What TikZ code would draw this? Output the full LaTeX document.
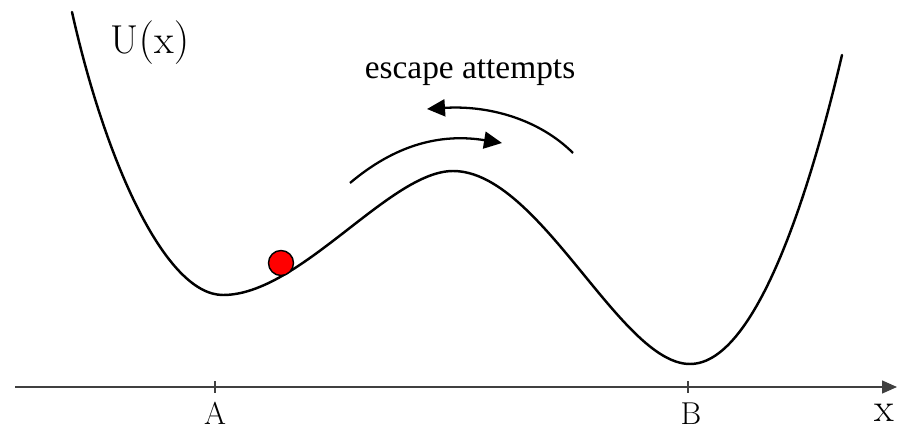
\documentclass[tikz,border=0pt]{standalone}
\usepackage{fontspec}
\newfontfamily\timesfont{Liberation Serif}
\usetikzlibrary{arrows.meta}
\tikzset{
	potential/.style={line width=1.4pt,line cap=round},
	attempt/.style={line width=1.3pt,-{Triangle[length=3.6mm,width=3.4mm]}},
	axisline/.style={line width=0.8pt,black!75,-{Triangle[length=3mm,width=2.6mm]}},
	tickmark/.style={line width=0.8pt,black!75},
}
\begin{document}
\begin{tikzpicture}[x=0.02cm,y=-0.02cm]
			\useasboundingbox (0,0) rectangle (903,429);
			% axis
			\coordinate (xstart) at (15,387);
			\coordinate (xend) at (897,387);
			\draw[axisline] (xstart) -- (xend);
			\draw[tickmark] (215,381) -- (215,393);
			\draw[tickmark] (688,381) -- (688,393);
			\node (labA) at (215,413) {\fontsize{18}{20}\selectfont A};
			\node (labB) at (691,414) {\fontsize{18}{20}\selectfont B};
			\node (labx) at (884,413) {\fontsize{23}{25}\selectfont x};
			\node (labU) at (150,43) {\fontsize{23}{25}\selectfont U$($x$)$};
			% potential curve
			\draw[potential] (72,12) .. controls (105,160) and (165,295) .. (223,295)
				.. controls (300,295) and (390,171) .. (453,171)
				.. controls (540,171) and (620,364) .. (690,364)
				.. controls (760,364) and (815,170) .. (842,55);
			% particle
			\node[circle,draw,line width=0.8pt,fill=red,minimum size=0.5cm,inner sep=0pt] (ball) at (281,263) {};
			% escape attempts
			\node (esc) at (470,73) {\timesfont\fontsize{19}{21}\selectfont escape attempts};
			\coordinate (fwdA) at (350,183);
			\coordinate (fwdB) at (502,143);
			\coordinate (bckA) at (573,153);
			\coordinate (bckB) at (427,109);
			\draw[attempt] (fwdA) .. controls (395,145) and (440,133) .. (fwdB);
			\draw[attempt] (bckA) .. controls (540,120) and (490,105) .. (bckB);
		\end{tikzpicture}
\end{document}
